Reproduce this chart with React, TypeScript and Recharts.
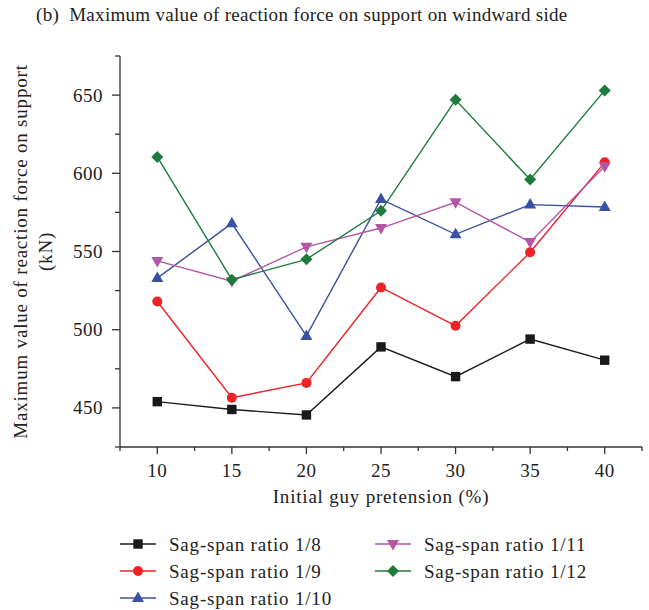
import React from "react";
import { LineChart, Line, XAxis, YAxis } from "recharts";

// Initial guy pretension (%)
const pretension = [10, 15, 20, 25, 30, 35, 40];

// Max reaction force on windward support (kN)
const ratio8 = [454, 449, 445.5, 489, 470, 494, 480.5];
const ratio9 = [518, 456.5, 466, 527, 502.5, 549.5, 607];
const ratio10 = [533, 568, 496, 583.5, 561, 580, 578.5];
const ratio11 = [544, 531, 553, 565, 581.5, 556, 604.5];
const ratio12 = [610.5, 532, 545, 576, 647, 596, 653];

const xTicks = [7.5, 10, 12.5, 15, 17.5, 20, 22.5, 25, 27.5, 30, 32.5, 35, 37.5, 40, 42.5];
const yTicks = [425, 450, 475, 500, 525, 550, 575, 600, 625, 650, 675];

const FONT = '"Liberation Serif", "DejaVu Serif", serif';
const AXIS = "#333";
const TXT = "#222";

type Shape = "square" | "circle" | "up" | "down" | "diamond";

const series: { key: string; name: string; values: number[]; color: string; shape: Shape }[] = [
  { key: "r8", name: "Sag-span ratio 1/8", values: ratio8, color: "#1a1a1a", shape: "square" },
  { key: "r9", name: "Sag-span ratio 1/9", values: ratio9, color: "#ec2327", shape: "circle" },
  { key: "r10", name: "Sag-span ratio 1/10", values: ratio10, color: "#3a50a2", shape: "up" },
  { key: "r11", name: "Sag-span ratio 1/11", values: ratio11, color: "#b455a5", shape: "down" },
  { key: "r12", name: "Sag-span ratio 1/12", values: ratio12, color: "#1e7b3b", shape: "diamond" },
];

const data = pretension.map((p, i) => {
  const row: Record<string, number> = { p };
  series.forEach((s) => (row[s.key] = s.values[i]));
  return row;
});

function Marker({ cx, cy, shape, color }: { cx: number; cy: number; shape: Shape; color: string }) {
  if (shape === "square") return <rect x={cx - 4.7} y={cy - 4.7} width={9.4} height={9.4} fill={color} />;
  if (shape === "circle") return <circle cx={cx} cy={cy} r={5} fill={color} />;
  if (shape === "up")
    return <polygon points={`${cx},${cy - 6.5} ${cx + 6},${cy + 4} ${cx - 6},${cy + 4}`} fill={color} />;
  if (shape === "down")
    return <polygon points={`${cx},${cy + 6.5} ${cx + 6},${cy - 4} ${cx - 6},${cy - 4}`} fill={color} />;
  return <polygon points={`${cx},${cy - 6} ${cx + 6},${cy} ${cx},${cy + 6} ${cx - 6},${cy}`} fill={color} />;
}

const makeDot = (shape: Shape, color: string) => (props: any) => {
  const { cx, cy, index } = props;
  return <Marker key={`${shape}-${index}`} cx={cx} cy={cy} shape={shape} color={color} />;
};

const XTick = (props: any) => {
  const { x, y, payload } = props;
  const v = payload.value;
  const major = v % 5 === 0;
  const axisY = y - 12;
  return (
    <g>
      <line x1={x} x2={x} y1={axisY} y2={axisY + (major ? 7 : 4)} stroke={AXIS} strokeWidth={1.3} />
      {major && (
        <text x={x} y={axisY + 30} textAnchor="middle" fontSize={19} letterSpacing={0.5} fontFamily={FONT} fill={TXT}>
          {v}
        </text>
      )}
    </g>
  );
};

const YTick = (props: any) => {
  const { x, y, payload } = props;
  const v = payload.value;
  const major = v % 50 === 0;
  const axisX = x + 12;
  return (
    <g>
      <line x1={axisX} x2={axisX - (major ? 8 : 5)} y1={y} y2={y} stroke={AXIS} strokeWidth={1.3} />
      {major && (
        <text x={axisX - 17} y={y + 6.5} textAnchor="end" fontSize={19} letterSpacing={0.5} fontFamily={FONT} fill={TXT}>
          {v}
        </text>
      )}
    </g>
  );
};

const YLabel = (props: any) => {
  const vb = props.viewBox || {};
  const cy = (vb.y ?? 56) + (vb.height ?? 391) / 2;
  return (
    <g fontFamily={FONT} fontSize={19} letterSpacing={0.8} fill={TXT}>
      <text x={27} y={cy} textAnchor="middle" transform={`rotate(-90 27 ${cy})`}>
        Maximum value of reaction force on support
      </text>
      <text x={52} y={cy} textAnchor="middle" transform={`rotate(-90 52 ${cy})`}>
        (kN)
      </text>
    </g>
  );
};

const legendPos = [
  { x: 120, y: 544 },
  { x: 120, y: 571 },
  { x: 120, y: 598 },
  { x: 375, y: 544 },
  { x: 375, y: 571 },
];

export default function App() {
  return (
    <div style={{ position: "absolute", left: 0, top: 0, width: 649, height: 610, background: "#fff", fontFamily: FONT }}>
      <div
        style={{
          position: "absolute",
          left: 36,
          top: 4,
          fontSize: 19,
          letterSpacing: 0.3,
          color: TXT,
          whiteSpace: "nowrap",
        }}
      >
        (b)&nbsp; Maximum value of reaction force on support on windward side
      </div>
      <LineChart
        width={649}
        height={520}
        data={data}
        margin={{ top: 56, right: 7, left: 0, bottom: 13 }}
        style={{ position: "absolute", left: 0, top: 0 }}
      >
        <XAxis
          dataKey="p"
          type="number"
          domain={[7.5, 42.5]}
          ticks={xTicks}
          interval={0}
          height={60}
          tickSize={8}
          tickMargin={4}
          tickLine={false}
          tick={<XTick />}
          axisLine={{ stroke: AXIS, strokeWidth: 1.3 }}
          label={{
            value: "Initial guy pretension (%)",
            position: "insideBottom",
            offset: 4,
            style: { fontFamily: FONT, fontSize: 19, letterSpacing: 0.8, fill: TXT },
          }}
        />
        <YAxis
          type="number"
          domain={[425, 675]}
          ticks={yTicks}
          interval={0}
          width={120}
          tickSize={8}
          tickMargin={4}
          tickLine={false}
          tick={<YTick />}
          axisLine={{ stroke: AXIS, strokeWidth: 1.3 }}
          label={{ content: <YLabel /> }}
        />
        {series.map((s) => (
          <Line
            key={s.key}
            dataKey={s.key}
            name={s.name}
            stroke={s.color}
            strokeWidth={1.4}
            dot={makeDot(s.shape, s.color)}
            activeDot={false}
            isAnimationActive={false}
          />
        ))}
      </LineChart>
      <svg width={649} height={610} style={{ position: "absolute", left: 0, top: 0, pointerEvents: "none" }}>
        {series.map((s, i) => {
          const { x, y } = legendPos[i];
          return (
            <g key={s.key}>
              <line x1={x} x2={x + 36} y1={y} y2={y} stroke={s.color} strokeWidth={1.4} />
              <Marker cx={x + 18} cy={y} shape={s.shape} color={s.color} />
              <text x={x + 49} y={y + 6.5} fontSize={19} letterSpacing={0.8} fontFamily={FONT} fill={TXT}>
                {s.name}
              </text>
            </g>
          );
        })}
      </svg>
    </div>
  );
}
